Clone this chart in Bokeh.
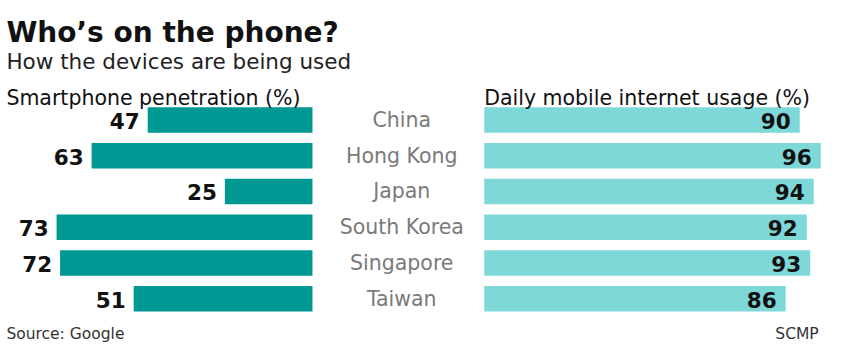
from bokeh.plotting import figure
from bokeh.models import Range1d, ColumnDataSource, Label
from bokeh.core.properties import value
from bokeh.embed import file_html
from bokeh.resources import INLINE

countries = ["China", "Hong Kong", "Japan", "South Korea", "Singapore", "Taiwan"]
smartphone = [47, 63, 25, 73, 72, 51]
daily_usage = [90, 96, 94, 92, 93, 86]

title = "Who\u2019s on the phone?"
subtitle = "How the devices are being used"
left_header = "Smartphone penetration (%)"
right_header = "Daily mobile internet usage (%)"
source_text = "Source: Google"
credit_text = "SCMP"

W, H = 829, 346
SX, SY = W / 845, H / 362   # fit the reference layout into the window

KX = 3.573 * SX            # px per percentage point
LEFT_ZERO_PX = 318 * SX    # x of left bars' base
RIGHT_OFFSET = 49          # data offset of right bars' base
ROW_PX = 37.4 * SY
ROW0_PX = 125 * SY

x_start = -LEFT_ZERO_PX / KX
x_end = x_start + W / KX
y_top = -ROW0_PX / ROW_PX
y_bottom = y_top + H / ROW_PX

rows = list(range(len(countries)))
src = ColumnDataSource(dict(
    y=rows,
    country=countries,
    sp_left=[-v for v in smartphone],
    du_left=[RIGHT_OFFSET] * len(rows),
    du_right=[RIGHT_OFFSET + v for v in daily_usage],
    sp_lbl=[str(v) for v in smartphone],
    du_lbl=[str(v) for v in daily_usage],
    zero=[0] * len(rows),
))

p = figure(width=W, height=H, output_backend="svg", toolbar_location=None,
           x_range=Range1d(x_start, x_end), y_range=Range1d(y_bottom, y_top),
           min_border=0)
p.axis.visible = False
p.grid.visible = False
p.outline_line_color = None
p.background_fill_color = "white"
p.border_fill_color = "white"

p.hbar(y="y", left="sp_left", right="zero", height=0.71, source=src,
       fill_color="#009893", line_color=None)
p.hbar(y="y", left="du_left", right="du_right", height=0.71, source=src,
       fill_color="#7fd8d8", line_color=None)

p.text(x="sp_left", y="y", text="sp_lbl", source=src, x_offset=-8, y_offset=1,
       text_align="right", text_baseline="middle", text_font=value("DejaVu Sans"),
       text_font_style="bold", text_font_size="21.5px", text_color="#111111")
p.text(x="du_right", y="y", text="du_lbl", source=src, x_offset=-9, y_offset=1,
       text_align="right", text_baseline="middle", text_font=value("DejaVu Sans"),
       text_font_style="bold", text_font_size="21.5px", text_color="#111111")

country_x = (409 * SX / KX) + x_start
p.text(x=country_x, y="y", text="country", source=src,
       text_align="center", text_baseline="middle", text_font=value("DejaVu Sans"),
       text_font_size="20.5px", text_color="#7a7a7a")

def add_label(text, x, y_base_from_top, size, color="#111111", style="normal",
              font="DejaVu Sans", align="left"):
    p.add_layout(Label(x=x * SX, y=H - y_base_from_top * SY, x_units="screen",
                       y_units="screen", text=text, text_font=font,
                       text_font_size=size, text_color=color,
                       text_font_style=style, text_align=align,
                       text_baseline="alphabetic"))

add_label(title, 6, 33, "28px", style="bold")
add_label(subtitle, 6, 64, "21.5px", color="#222222")
add_label(left_header, 6, 102, "20.5px", color="#111111")
add_label(right_header, 493, 102, "20.5px", color="#111111")
add_label(source_text, 6, 349, "15.5px", color="#333333")
add_label(credit_text, 834, 349, "15.5px", color="#333333", align="right")

open("out.html", "w").write(file_html(p, INLINE))
